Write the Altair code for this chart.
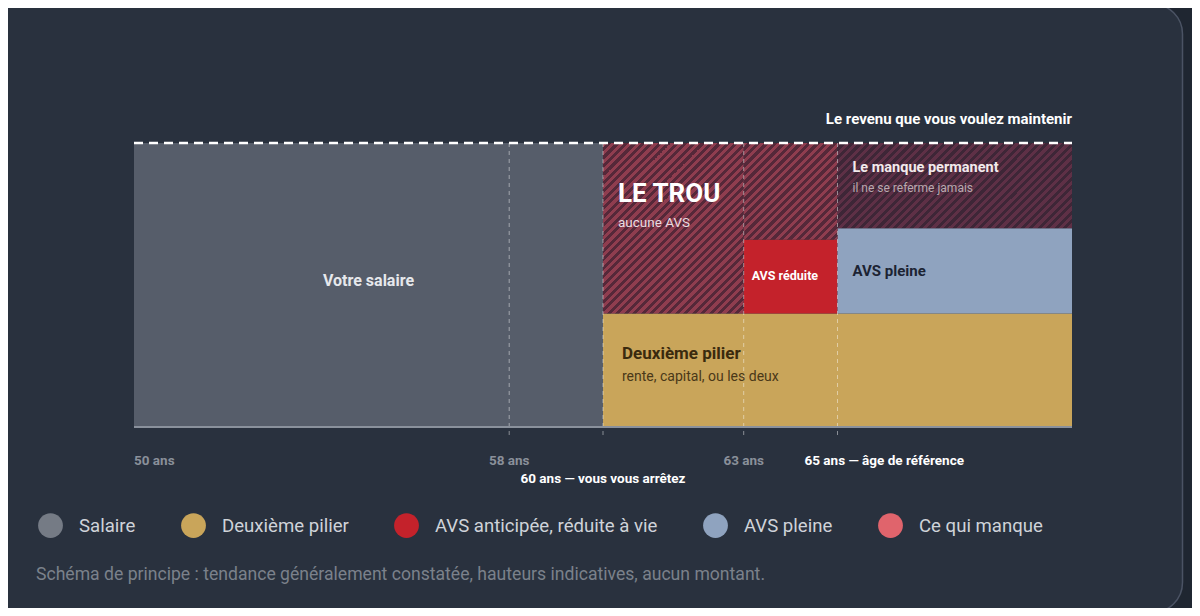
import altair as alt
import pandas as pd

FONT = "Roboto"

# plot area, in pixels, used for scales and the hatch gradients
W, H = 938, 284
AGE_MIN, AGE_MAX = 50, 70
Y_MAX = 100

# coloured blocks (age span, height span)
block_names = ["Votre salaire", "Deuxième pilier", "AVS réduite", "AVS pleine"]
block_start = [50, 60, 63, 65]
block_end = [60, 70, 65, 70]
block_low = [0, 0, 40, 40]
block_high = [100, 40, 66, 70]
block_colors = ["#565d6a", "#c9a55a", "#c4222b", "#8fa3bf"]

# the missing part (hatched)
gap_start = [60, 63, 65]
gap_end = [63, 65, 70]
gap_low = [40, 66, 70]
gap_high = [100, 100, 100]

# markers on the age axis
marker_ages = [58, 60, 63, 65]

legend_names = ["Salaire", "Deuxième pilier", "AVS anticipée, réduite à vie", "AVS pleine", "Ce qui manque"]
legend_colors = ["#757b85", "#c9a55a", "#c4222b", "#8fa3bf", "#e0646c"]

x_scale = alt.Scale(domain=[AGE_MIN, AGE_MAX], nice=False, zero=False)
y_scale = alt.Scale(domain=[0, Y_MAX], nice=False, zero=True)

blocks = pd.DataFrame({
    "name": block_names, "a0": block_start, "a1": block_end,
    "lo": block_low, "hi": block_high,
})

card = alt.Chart(pd.DataFrame({"k": [0]})).mark_rect(
    fill="#29313e", stroke="#4b5364", strokeWidth=1.5, cornerRadius=30
).encode(
    x=alt.value(-150), x2=alt.value(1048.5), y=alt.value(-139), y2=alt.value(469.5)
)

bars = alt.Chart(blocks).mark_rect().encode(
    x=alt.X("a0:Q", scale=x_scale, axis=None),
    x2="a1:Q",
    y=alt.Y("lo:Q", scale=y_scale, axis=None),
    y2="hi:Q",
    color=alt.Color("name:N", scale=alt.Scale(domain=block_names, range=block_colors), legend=None),
)


def hatch(a0, a1, lo, hi, light, dark, period=8.5, frac=0.5):
    # diagonal stripes drawn as a hard-stop gradient across the rect
    w = (a1 - a0) / (AGE_MAX - AGE_MIN) * W
    h = (hi - lo) / Y_MAX * H
    s = w + h
    beta = s / (w * w + h * h)
    stops = []
    i = 0
    while i * period < s:
        a = i * period / s
        b = min((i + frac) * period / s, 1)
        c = min((i + 1) * period / s, 1)
        stops += [
            alt.GradientStop(offset=a, color=light),
            alt.GradientStop(offset=b, color=light),
            alt.GradientStop(offset=b, color=dark),
            alt.GradientStop(offset=c, color=dark),
        ]
        i += 1
    grad = alt.LinearGradient(gradient="linear", stops=stops, x1=0, y1=0, x2=w * beta, y2=h * beta)
    return alt.Chart(pd.DataFrame({"a0": [a0], "a1": [a1], "lo": [lo], "hi": [hi]})).mark_rect(
        color=grad
    ).encode(
        x=alt.X("a0:Q", scale=x_scale, axis=None), x2="a1:Q",
        y=alt.Y("lo:Q", scale=y_scale, axis=None), y2="hi:Q",
    )


gaps = []
for k in range(len(gap_start)):
    if k < 2:
        light, dark = "#8f3d4f", "#552839"
    else:
        light, dark = "#5e3046", "#3e2637"
    gaps.append(hatch(gap_start[k], gap_end[k], gap_low[k], gap_high[k], light, dark))

markers = alt.Chart(pd.DataFrame({"age": marker_ages})).mark_rule(
    color="#ffffff", opacity=0.45, strokeDash=[4, 4], strokeWidth=1
).encode(
    x=alt.X("age:Q", scale=x_scale, axis=None),
    y=alt.value(0), y2=alt.value(H + 10),
)

baseline = alt.Chart(pd.DataFrame({"a0": [AGE_MIN], "a1": [AGE_MAX], "v": [0]})).mark_rule(
    color="#8a919c", strokeWidth=2
).encode(x=alt.X("a0:Q", scale=x_scale, axis=None), x2="a1:Q", y=alt.Y("v:Q", scale=y_scale, axis=None))

target = alt.Chart(pd.DataFrame({"a0": [AGE_MIN], "a1": [AGE_MAX], "v": [Y_MAX]})).mark_rule(
    color="#ffffff", strokeWidth=2.5, strokeDash=[9, 6]
).encode(x=alt.X("a0:Q", scale=x_scale, axis=None), x2="a1:Q", y=alt.Y("v:Q", scale=y_scale, axis=None))


def label(text, age, val, size, color, weight="normal", align="left", dx=0, dy=0, baseline="middle"):
    return alt.Chart(pd.DataFrame({"t": [text], "age": [age], "v": [val]})).mark_text(
        font=FONT, fontSize=size, color=color, fontWeight=weight, align=align,
        baseline=baseline, dx=dx, dy=dy
    ).encode(
        x=alt.X("age:Q", scale=x_scale, axis=None),
        y=alt.Y("v:Q", scale=y_scale, axis=None),
        text="t:N",
    )


def axis_label(text, age, row_y, color, weight, align="center", dx=0):
    return alt.Chart(pd.DataFrame({"t": [text], "age": [age]})).mark_text(
        font=FONT, fontSize=13.5, color=color, fontWeight=weight, align=align, baseline="middle", dx=dx
    ).encode(
        x=alt.X("age:Q", scale=x_scale, axis=None),
        y=alt.value(row_y),
        text="t:N",
    )


texts = [
    label("Le revenu que vous voulez maintenir", 70, 100, 15, "#ffffff", "bold", "right", dy=-24),
    label("Votre salaire", 55, 50, 16, "#e6e8ec", "bold", "center", dy=-4),
    label("LE TROU", 60, 100, 26, "#ffffff", "bold", dx=15, dy=51),
    label("aucune AVS", 60, 100, 13.5, "#eadbe0", dx=15, dy=80),
    label("AVS réduite", 63, 53, 12.5, "#ffffff", "bold", dx=8),
    label("Le manque permanent", 65, 100, 14.5, "#f2eaec", "bold", dx=15, dy=25),
    label("il ne se referme jamais", 65, 100, 12, "#b9a9b0", dx=15, dy=45),
    label("AVS pleine", 65, 55, 15, "#1c2333", "bold", dx=15),
    label("Deuxième pilier", 60, 40, 17, "#3a2a0e", "bold", dx=19, dy=41),
    label("rente, capital, ou les deux", 60, 40, 14, "#4a3818", dx=19, dy=64),
    axis_label("50 ans", 50, 318, "#8a909a", "bold", "left"),
    axis_label("58 ans", 58, 318, "#8a909a", "bold"),
    axis_label("63 ans", 63, 318, "#8a909a", "bold"),
    axis_label("65 ans — âge de référence", 65, 318, "#ffffff", "bold", "left", dx=-33),
    axis_label("60 ans — vous vous arrêtez", 60, 336, "#ffffff", "bold"),
]

note = alt.Chart(pd.DataFrame({"t": ["Schéma de principe : tendance généralement constatée, hauteurs indicatives, aucun montant."]})).mark_text(
    font=FONT, fontSize=17.6, color="#7b818b", align="left", baseline="middle"
).encode(x=alt.value(-98), y=alt.value(432), text="t:N")

legend_layer = alt.Chart(pd.DataFrame({"cat": legend_names, "age": [50] * 5, "v": [-50] * 5})).mark_point(
    filled=True, clip=True, opacity=1
).encode(
    x=alt.X("age:Q", scale=x_scale, axis=None),
    y=alt.Y("v:Q", scale=y_scale, axis=None),
    color=alt.Color(
        "cat:N",
        sort=legend_names,
        scale=alt.Scale(domain=legend_names, range=legend_colors),
        legend=alt.Legend(
            title=None, orient="none", legendX=-96, legendY=370, direction="horizontal",
            symbolType="circle", symbolSize=615, symbolStrokeWidth=0, symbolOpacity=1,
            labelFont=FONT, labelFontSize=18.6, labelColor="#cfd3d9", labelOffset=16,
            columnPadding=45, labelLimit=400,
        ),
    ),
)

chart = alt.layer(
    card, bars, *gaps, markers, baseline, target, *texts, note, legend_layer
).resolve_scale(
    color="independent"
).properties(
    width=W, height=H,
    background="#1f2631",
    autosize=alt.AutoSizeParams(type="none"),
    padding={"left": 126, "top": 135, "right": 120, "bottom": 181},
).configure_view(stroke=None)

chart.save("out.html", embed_options={"renderer": "svg", "actions": False})
